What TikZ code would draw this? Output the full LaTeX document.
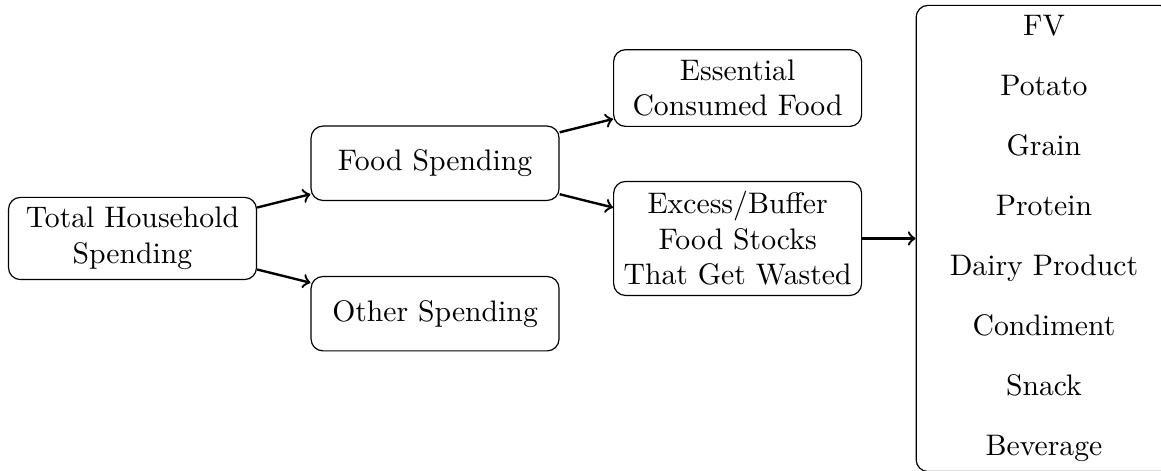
\documentclass[tikz,border=0pt]{standalone}
\usepackage{amsmath}
\usepackage{tikz}

\begin{document}
\begin{tikzpicture}[box/.style={draw, rounded corners, text width=2.7cm, align=center, minimum height=0.88cm}]
					\useasboundingbox (-1.568,-2.74) rectangle (12.17,2.822);
					
					% Spending split
					\node[box] (total) at (0,0) {Total Household\\Spending};
					\node[box] (food) at (3.58,0.89) {Food Spending};
					\node[box] (other) at (3.58,-0.89) {Other Spending};
					
					% Food split
					\node[box] (essential) at (7.16,1.78) {Essential\\Consumed Food};
					\node[box] (excess) at (7.16,0) {Excess/Buffer\\Food Stocks\\That Get Wasted};
					
					% Food groups
					\node[box, text width=2.79cm] (groups) at (10.785,0) {FV\\[8.2pt] Potato\\[8.2pt] Grain\\[8.2pt] Protein\\[8.2pt] Dairy Product\\[8.2pt] Condiment\\[8.2pt] Snack\\[8.2pt] Beverage};
					
					% Draw the arrows
					\draw[->,thick] (total) -- (food);
					\draw[->,thick] (total) -- (other);
					\draw[->,thick] (food) -- (essential);
					\draw[->,thick] (food) -- (excess);
					\draw[->,thick] (excess) -- (groups);
				\end{tikzpicture}
\end{document}
